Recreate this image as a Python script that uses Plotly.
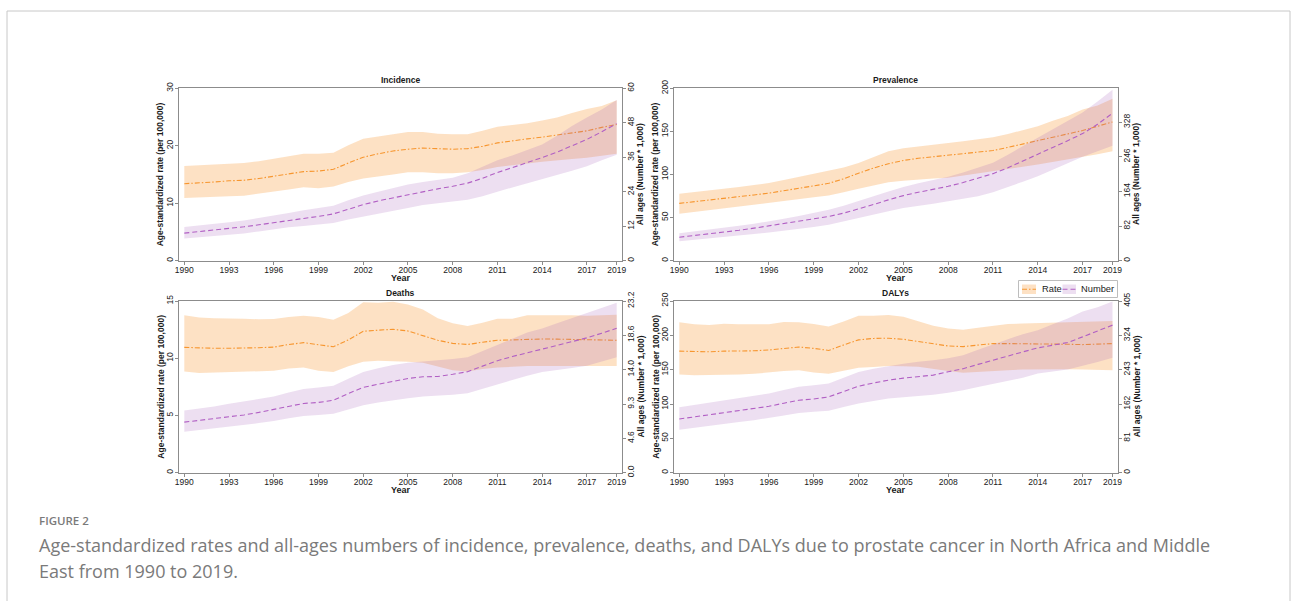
import plotly.graph_objects as go

years = list(range(1990, 2020))

# ---------------- Incidence ----------------
inc_rate = [13.4, 13.5, 13.7, 13.9, 14.0, 14.3, 14.7, 15.1, 15.5, 15.6, 15.9, 17.0, 18.0, 18.6, 19.1,
            19.4, 19.6, 19.5, 19.4, 19.5, 19.9, 20.5, 20.9, 21.2, 21.5, 21.9, 22.2, 22.6, 23.2, 23.7]
inc_rate_up = [16.5, 16.6, 16.7, 16.9, 17.0, 17.3, 17.7, 18.1, 18.6, 18.6, 18.8, 20.1, 21.2, 21.6, 22.0,
               22.4, 22.4, 22.1, 22.0, 22.0, 22.6, 23.3, 23.6, 23.9, 24.4, 24.9, 25.7, 26.4, 26.9, 27.9]
inc_rate_lo = [10.9, 11.0, 11.1, 11.2, 11.3, 11.6, 12.0, 12.4, 12.8, 12.6, 12.9, 13.7, 14.3, 14.6, 15.0,
               15.4, 15.4, 15.2, 15.2, 15.4, 15.8, 16.3, 16.6, 16.9, 17.2, 17.5, 17.7, 17.9, 18.2, 18.6]
inc_num = [9.6, 10.1, 10.6, 11.2, 11.8, 12.5, 13.3, 14.0, 14.7, 15.4, 16.3, 17.9, 19.5, 20.8, 21.9,
           23.0, 24.1, 25.0, 25.9, 27.0, 28.7, 30.7, 32.4, 34.1, 35.9, 37.8, 39.9, 42.2, 44.9, 47.7]
inc_num_up = [11.7, 12.2, 12.8, 13.4, 14.0, 14.8, 15.7, 16.6, 17.6, 18.3, 19.1, 21.0, 22.7, 24.0, 25.3,
              26.5, 27.4, 28.2, 28.9, 30.4, 32.6, 35.0, 36.6, 38.4, 40.4, 43.5, 46.9, 49.8, 52.6, 55.9]
inc_num_lo = [7.7, 8.1, 8.5, 9.0, 9.5, 10.2, 11.0, 11.6, 12.1, 12.5, 13.1, 14.3, 15.4, 16.4, 17.3,
              18.3, 19.4, 20.0, 20.6, 21.2, 22.4, 24.0, 25.5, 27.0, 28.4, 29.9, 31.3, 32.9, 35.0, 36.9]

# ---------------- Prevalence ----------------
prev_rate = [66.5, 68.3, 70.4, 72.5, 74.4, 76.3, 78.4, 81.0, 83.8, 86.8, 89.8, 95.0, 101.5, 107.5, 112.5,
             116.3, 118.8, 120.5, 122.0, 123.8, 125.7, 127.8, 131.5, 135.5, 139.4, 143.5, 147.2, 151.0, 156.0, 161.0]
prev_rate_up = [77.7, 79.5, 81.5, 83.5, 85.5, 87.7, 90.0, 93.5, 97.0, 100.2, 103.7, 108.0, 113.4, 120.5, 127.0,
                130.5, 132.5, 134.2, 135.9, 138.5, 141.0, 143.3, 147.0, 151.5, 156.0, 162.5, 167.8, 175.5, 180.0, 188.0]
prev_rate_lo = [54.4, 56.5, 58.6, 60.7, 62.8, 64.8, 66.8, 69.0, 71.3, 73.5, 75.7, 79.5, 83.5, 87.5, 91.0,
                92.8, 94.2, 95.3, 96.3, 98.5, 101.0, 103.7, 106.5, 109.0, 111.5, 114.5, 117.5, 120.4, 123.5, 127.0]
prev_num = [55.6, 59.5, 63.5, 67.5, 72.0, 77.0, 82.5, 88.0, 93.5, 99.2, 104.8, 112.5, 122.2, 133.0, 144.0,
            154.0, 162.0, 169.0, 176.0, 185.0, 195.0, 206.0, 220.0, 235.5, 251.6, 268.0, 284.0, 300.8, 323.0, 349.0]
prev_num_up = [65.0, 69.0, 73.5, 78.0, 82.5, 87.5, 92.9, 99.0, 105.5, 112.5, 120.6, 130.0, 140.5, 152.5, 164.0,
               174.6, 183.0, 191.0, 198.4, 208.5, 219.8, 231.7, 251.0, 271.0, 291.3, 311.0, 331.0, 350.8, 377.0, 404.8]
prev_num_lo = [46.0, 49.0, 52.5, 56.0, 59.5, 63.0, 66.7, 70.5, 75.0, 79.8, 85.0, 92.5, 100.8, 109.0, 117.0,
               124.6, 130.0, 135.0, 140.5, 146.0, 152.4, 162.0, 174.0, 187.0, 200.0, 215.0, 230.5, 246.0, 259.0, 272.0]

# ---------------- Deaths ----------------
death_rate = [10.95, 10.88, 10.87, 10.87, 10.88, 10.92, 10.97, 11.2, 11.36, 11.2, 11.0, 11.6, 12.35, 12.45, 12.53,
              12.38, 12.0, 11.57, 11.3, 11.2, 11.4, 11.57, 11.6, 11.66, 11.68, 11.67, 11.65, 11.62, 11.6, 11.57]
death_rate_up = [13.75, 13.55, 13.5, 13.5, 13.45, 13.4, 13.42, 13.6, 13.72, 13.6, 13.36, 13.96, 14.9, 14.85, 14.94,
                 14.7, 14.26, 13.5, 13.05, 12.82, 13.1, 13.45, 13.45, 13.75, 13.75, 13.8, 13.75, 13.72, 13.75, 13.8]
death_rate_lo = [8.85, 8.7, 8.75, 8.8, 8.8, 8.85, 8.9, 9.1, 9.2, 8.9, 8.8, 9.3, 9.7, 9.78, 9.75,
                 9.7, 9.6, 9.3, 8.95, 8.85, 9.05, 9.2, 9.25, 9.33, 9.37, 9.39, 9.36, 9.33, 9.33, 9.33]
death_num = [6.83, 7.05, 7.28, 7.52, 7.8, 8.15, 8.53, 8.95, 9.36, 9.5, 9.78, 10.7, 11.53, 11.95, 12.36,
             12.73, 12.96, 13.0, 13.3, 13.65, 14.4, 15.13, 15.7, 16.24, 16.7, 17.2, 17.7, 18.22, 18.85, 19.51]
death_num_up = [8.4, 8.65, 8.95, 9.3, 9.6, 9.95, 10.3, 10.85, 11.3, 11.5, 11.75, 12.7, 13.6, 14.1, 14.55,
                14.85, 15.0, 15.15, 15.35, 15.6, 16.4, 17.2, 18.1, 18.95, 19.5, 20.2, 20.9, 21.6, 22.3, 22.97]
death_num_lo = [5.55, 5.75, 5.95, 6.2, 6.45, 6.7, 6.97, 7.35, 7.65, 7.8, 7.98, 8.6, 9.13, 9.5, 9.82,
                10.05, 10.29, 10.4, 10.52, 10.75, 11.3, 11.9, 12.5, 13.1, 13.6, 13.9, 14.15, 14.45, 15.0, 15.6]

# ---------------- DALYs ----------------
daly_rate = [177, 176, 176, 177, 177, 177.5, 178.7, 181, 183, 181, 178, 186, 193.4, 195.5, 195.8,
             194.3, 191, 187, 184.5, 183.6, 186, 188, 188, 188, 188, 187.5, 187, 186.5, 187, 188]
daly_rate_up = [219, 216, 215, 217, 216, 216, 216.3, 219.5, 219, 216.5, 213, 220, 228.5, 228.5, 229.5,
                227, 220, 214, 210, 208, 211, 214, 216.5, 217.3, 218, 218.5, 219, 219.7, 220.5, 221]
daly_rate_lo = [143, 142, 141.6, 142.5, 143, 144, 145.5, 148, 149, 146, 144, 148.5, 152.8, 154, 155.3,
                155, 154.3, 151, 148, 145.5, 146.5, 148, 149, 150.4, 150.5, 150.5, 150.5, 150.4, 150, 149]
daly_num = [126.6, 131.5, 137, 142.4, 146.5, 151.5, 156.6, 164, 170.9, 174, 178.8, 191.5, 204.1, 211.5, 218.4,
            223.1, 226.5, 230.2, 238.1, 245.3, 255.5, 265.8, 275.5, 285, 294.3, 300, 307, 320.4, 334, 348.1]
daly_num_up = [154.3, 159.5, 165, 170.9, 176, 181, 186.7, 195, 202.5, 206.5, 210.4, 224, 237.3, 245, 251.6,
               257, 261.9, 265, 270, 276.9, 290, 303, 315, 326.7, 336.2, 350, 363.9, 380.5, 390, 404]
daly_num_lo = [101.3, 105.5, 110, 114.7, 119.5, 124, 129, 135, 140.8, 143.5, 146.4, 155, 163, 169, 174.8,
               178, 180.4, 184, 188.3, 194.6, 202, 210.4, 217, 223.9, 234.2, 239, 243.7, 251.6, 261, 271.4]

panel_titles = ["Incidence", "Prevalence", "Deaths", "DALYs"]
legend_labels = ["Rate", "Number"]
x_title = "Year"
left_title = "Age-standardized rate (per 100,000)"
right_title = "All ages (Number * 1,000)"
x_ticks = [1990, 1993, 1996, 1999, 2002, 2005, 2008, 2011, 2014, 2017, 2019]
left_ticks = [[0, 10, 20, 30], [0, 50, 100, 150, 200], [0, 5, 10, 15], [0, 50, 100, 150, 200, 250]]
left_ranges = [30, 200, 15, 250]
right_ticks = [[0, 12, 24, 36, 48, 60], [0, 82, 164, 246, 328], [0, 4.64, 9.28, 13.95, 18.6, 23.2],
               [0, 81, 162, 243, 324, 405]]
right_ticktext = [["0", "12", "24", "36", "48", "60"], ["0", "82", "164", "246", "328"],
                  ["0.0", "4.6", "9.3", "14.0", "18.6", "23.2"], ["0", "81", "162", "243", "324", "405"]]
right_ranges = [60, 408, 23.2, 405]

panels = [
    (inc_rate, inc_rate_up, inc_rate_lo, inc_num, inc_num_up, inc_num_lo),
    (prev_rate, prev_rate_up, prev_rate_lo, prev_num, prev_num_up, prev_num_lo),
    (death_rate, death_rate_up, death_rate_lo, death_num, death_num_up, death_num_lo),
    (daly_rate, daly_rate_up, daly_rate_lo, daly_num, daly_num_up, daly_num_lo),
]

W, H = 1292, 601
# plot-area pixel boxes (left, right, top, bottom)
boxes = [(179.3, 621.7, 88.3, 260.7), (674.3, 1117.5, 88.3, 260.7),
         (179.3, 621.7, 301.0, 472.7), (674.3, 1117.5, 301.0, 472.7)]

ORANGE = "#f7962f"
PURPLE = "#b15fc4"
ORANGE_FILL = "rgba(250,170,85,0.35)"
PURPLE_FILL = "rgba(165,95,185,0.20)"
FONT = "Liberation Sans, Arial, sans-serif"
TXT = "#1a1a1a"
AX = "#8c8c8c"
RATE_DASH = "5px,2px,1.5px,2px"
NUM_DASH = "5px,3px"


def px(v):
    return v / W


def py(v):
    return 1 - v / H


fig = go.Figure()
layout = {}
annotations = []

for p, (r, ru, rl, n, nu, nl) in enumerate(panels):
    xa = "x" if p == 0 else f"x{p + 1}"
    yl = "y" if p == 0 else f"y{2 * p + 1}"
    yr = f"y{2 * p + 2}"
    xkey = "xaxis" if p == 0 else f"xaxis{p + 1}"
    ylkey = "yaxis" if p == 0 else f"yaxis{2 * p + 1}"
    yrkey = f"yaxis{2 * p + 2}"

    fig.add_trace(go.Scatter(x=years + years[::-1], y=ru + rl[::-1], fill="toself", fillcolor=ORANGE_FILL,
                             line=dict(width=0), mode="lines", hoverinfo="skip", showlegend=False,
                             xaxis=xa, yaxis=yl))
    fig.add_trace(go.Scatter(x=years + years[::-1], y=nu + nl[::-1], fill="toself", fillcolor=PURPLE_FILL,
                             line=dict(width=0), mode="lines", hoverinfo="skip", showlegend=False,
                             xaxis=xa, yaxis=yr))
    fig.add_trace(go.Scatter(x=years, y=r, mode="lines", line=dict(color=ORANGE, width=1.1, dash=RATE_DASH),
                             name="Rate", showlegend=False, xaxis=xa, yaxis=yl))
    fig.add_trace(go.Scatter(x=years, y=n, mode="lines", line=dict(color=PURPLE, width=1.1, dash=NUM_DASH),
                             name="Number", showlegend=False, xaxis=xa, yaxis=yr))

    x0, x1, t, b = boxes[p]
    xdom = [px(x0), px(x1)]
    ydom = [py(b), py(t)]

    tickfont = dict(family=FONT, size=8.5, color=TXT)
    common = dict(ticks="outside", ticklen=3, tickcolor=AX, showline=True, linecolor=AX, linewidth=1,
                  showgrid=False, zeroline=False, tickfont=tickfont, automargin=False)

    layout[xkey] = dict(domain=xdom, anchor=yl, range=[1989.665, 2019.335], tickvals=x_ticks, mirror=True,
                        ticklabelstandoff=-2, **common)
    layout[ylkey] = dict(domain=ydom, anchor=xa, range=[0, left_ranges[p]], tickvals=left_ticks[p],
                         mirror=True, tickangle=-90, ticklabelstandoff=-1, **common)
    layout[yrkey] = dict(domain=ydom, anchor=xa, overlaying=yl, side="right", range=[0, right_ranges[p]],
                         tickvals=right_ticks[p], ticktext=right_ticktext[p], tickangle=-90,
                         ticklabelstandoff=-2, **common)

    ymid = (t + b) / 2
    bold = dict(family=FONT, size=8.5, color=TXT)
    annotations.append(dict(text=f"<b>{panel_titles[p]}</b>", x=px((x0 + x1) / 2), y=py(t - 8),
                            xref="paper", yref="paper", showarrow=False, xanchor="center", yanchor="middle",
                            font=bold))
    annotations.append(dict(text=f"<b>{left_title}</b>", x=px(x0 - 18.5), y=py(ymid), textangle=-90,
                            xref="paper", yref="paper", showarrow=False, xanchor="center", yanchor="middle",
                            font=bold))
    annotations.append(dict(text=f"<b>{right_title}</b>", x=px(x1 + 19), y=py(ymid), textangle=-90,
                            xref="paper", yref="paper", showarrow=False, xanchor="center", yanchor="middle",
                            font=bold))
    annotations.append(dict(text=f"<b>{x_title}</b>", x=px((x0 + x1) / 2), y=py(b + 17.5),
                            xref="paper", yref="paper", showarrow=False, xanchor="center", yanchor="middle",
                            font=dict(family=FONT, size=9, color=TXT)))

shapes = [dict(type="rect", xref="paper", yref="paper", x0=px(7), x1=px(1290), y0=-0.05, y1=py(11),
               line=dict(color="#c8c8c8", width=1), fillcolor="rgba(0,0,0,0)", layer="below")]

# legend key
shapes.append(dict(type="rect", xref="paper", yref="paper", x0=px(1018.5), x1=px(1117.5), y0=py(297.5), y1=py(280.5),
                   line=dict(color="#bdbdbd", width=1), fillcolor="white", layer="above"))
legend_keys = [(1022, 1036, ORANGE_FILL, ORANGE, RATE_DASH, 1040),
               (1062.5, 1076, PURPLE_FILL, PURPLE, NUM_DASH, 1079)]
for (k0, k1, fc, lc, dsh, tx), lab in zip(legend_keys, legend_labels):
    shapes.append(dict(type="rect", xref="paper", yref="paper", x0=px(k0), x1=px(k1), y0=py(294), y1=py(284.5),
                       line=dict(width=0), fillcolor=fc, layer="above"))
    shapes.append(dict(type="line", xref="paper", yref="paper", x0=px(k0), x1=px(k1), y0=py(289.2), y1=py(289.2),
                       line=dict(color=lc, width=1.1, dash=dsh), layer="above"))
    annotations.append(dict(text=lab, x=px(tx), y=py(289.3), xref="paper", yref="paper", showarrow=False,
                            xanchor="left", yanchor="middle", font=dict(family=FONT, size=9.3, color=TXT)))

CAP = "Open Sans, sans-serif"
annotations.append(dict(text="FIGURE 2", x=px(37), y=py(520), xref="paper", yref="paper",
                        showarrow=False, xanchor="left", yanchor="middle",
                        font=dict(family=CAP, size=11.5, color="#7a7a7a", weight=600)))
annotations.append(dict(text="Age-standardized rates and all-ages numbers of incidence, prevalence, deaths, and DALYs due to prostate cancer in North Africa and Middle",
                        x=px(37), y=py(545), xref="paper", yref="paper",
                        showarrow=False, xanchor="left", yanchor="middle",
                        font=dict(family=CAP, size=18, color="#7a7a7a")))
annotations.append(dict(text="East from 1990 to 2019.",
                        x=px(37), y=py(571), xref="paper", yref="paper",
                        showarrow=False, xanchor="left", yanchor="middle",
                        font=dict(family=CAP, size=18, color="#7a7a7a")))

fig.update_layout(
    width=W, height=H, margin=dict(l=0, r=0, t=0, b=0, autoexpand=False),
    paper_bgcolor="white", plot_bgcolor="white",
    showlegend=False,
    annotations=annotations, shapes=shapes,
    **layout,
)

fig.write_html("out.html", config={"displayModeBar": False},
               post_script="document.body.style.margin='0px';document.body.style.overflow='hidden';")
